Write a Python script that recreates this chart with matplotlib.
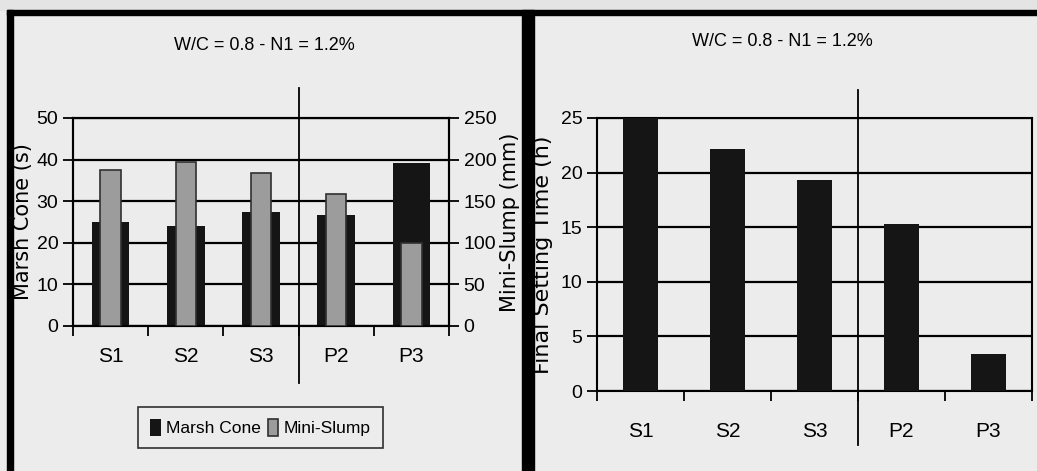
import matplotlib
matplotlib.use("Agg")
import matplotlib.pyplot as plt
from matplotlib.patches import Rectangle
import numpy as np

categories = ["S1", "S2", "S3", "P2", "P3"]
marsh_cone = [25.0, 24.0, 27.5, 26.8, 39.2]       # s
mini_slump = [187, 197, 184, 159, 100]            # mm
final_setting = [25.0, 22.2, 19.3, 15.3, 3.4]     # h
title = "W/C = 0.8 - N1 = 1.2%"

W, H = 1037, 471
narrow = ["Liberation Sans", "DejaVu Sans"]
wide = ["DejaVu Sans"]
bg = "#ececec"
dark = "#151515"
grey = "#9c9c9c"
tsize = 14

fig = plt.figure(figsize=(W / 100, H / 100), dpi=100, facecolor=bg)


def px(x0, y0, x1, y1):
    # figure-pixel box -> [left, bottom, width, height]
    return [x0 / W, 1 - y1 / H, (x1 - x0) / W, (y1 - y0) / H]


# scan strip + black frame pieces
fig.patches.append(Rectangle((0, 1 - 10 / H), 1, 10 / H, transform=fig.transFigure,
                             color="#e4e4e4", zorder=-2))
for box in [(7, 10, 1037, 15), (7, 10, 13, 471), (522, 10, 534, 471)]:
    b = px(*box)
    fig.patches.append(Rectangle((b[0], b[1]), b[2], b[3], transform=fig.transFigure,
                                 color="black", zorder=-1))


def style(ax, top, bot, pad):
    ax.set_facecolor(bg)
    ax.set_xlim(-0.5, 4.5)
    x = np.arange(len(categories))
    ax.set_xticks(x)
    ax.set_xticklabels(categories, family=narrow, fontsize=tsize + 1)
    ax.set_xticks(np.arange(-0.5, 5, 1), minor=True)
    ax.tick_params(axis="x", which="major", length=0, pad=pad)
    ax.tick_params(axis="x", which="minor", length=7, width=1.3, direction="out")
    ax.tick_params(axis="y", length=7, width=1.3, labelsize=tsize)
    for lab in ax.get_yticklabels():
        lab.set_family(narrow)
    for s in ax.spines.values():
        s.set_linewidth(1.5)
    ax.yaxis.grid(True, color="black", lw=1.6)
    ax.set_axisbelow(True)
    ax.axvline(2.5, ymin=bot, ymax=top, color="black", lw=1.3, clip_on=False)


# ---- left: Marsh cone & mini-slump
ax1 = fig.add_axes(px(73, 118, 449, 326))
x = np.arange(len(categories))
b1 = ax1.bar(x, marsh_cone, width=0.5, color=dark, zorder=3, label="Marsh Cone")
ax1.set_ylim(0, 50)
ax1.set_yticks(range(0, 51, 10))
style(ax1, 1.144, -0.274, 15)
ax1.set_ylabel("Marsh Cone (s)", family=wide, fontsize=15)
ax1.yaxis.set_label_coords(-0.106, 0.5)

ax2 = ax1.twinx()
b2 = ax2.bar(x, mini_slump, width=0.27, color=grey, edgecolor="#303030", lw=1.2,
             zorder=4, label="Mini-Slump")
ax2.set_ylim(0, 250)
ax2.set_yticks(range(0, 251, 50))
ax2.tick_params(axis="y", length=7, width=1.3, labelsize=tsize)
for lab in ax2.get_yticklabels():
    lab.set_family(narrow)
ax2.set_ylabel("Mini-Slump (mm)", family=wide, fontsize=15)
ax2.yaxis.set_label_coords(1.136, 0.5)
for s in ax2.spines.values():
    s.set_linewidth(1.5)

fig.text(264 / W, 1 - 45 / H, title, family=narrow, fontsize=tsize - 1,
         ha="center", va="center")

leg = fig.legend([b1, b2], ["Marsh Cone", "Mini-Slump"], loc="center",
                 bbox_to_anchor=(260.5 / W, 1 - 427.5 / H), ncol=2, frameon=True,
                 fancybox=False, edgecolor="black", facecolor=bg,
                 prop={"family": narrow, "size": 12.5}, handlelength=0.6,
                 handleheight=1.1, handletextpad=0.3, columnspacing=0.4,
                 borderpad=0.7)
leg.get_frame().set_linewidth(1.2)

# ---- right: final setting time
ax3 = fig.add_axes(px(597, 118, 1032, 391))
ax3.bar(x, final_setting, width=0.41, color=dark, zorder=3)
ax3.set_ylim(0, 25)
ax3.set_yticks(range(0, 26, 5))
style(ax3, 1.1026, -0.198, 22)
ax3.set_ylabel("Final Setting Time (h)", family=wide, fontsize=16)
ax3.yaxis.set_label_coords(-0.101, 0.5)
fig.text(782 / W, 1 - 42 / H, title, family=narrow, fontsize=tsize - 1,
         ha="center", va="center")

fig.savefig("out.png", dpi=100, facecolor=bg)
